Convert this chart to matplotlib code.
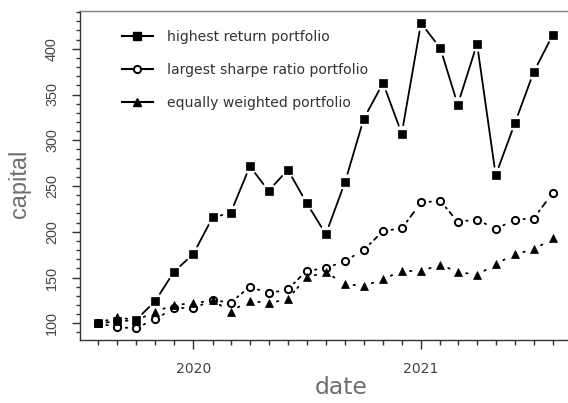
import matplotlib
matplotlib.use("Agg")
import matplotlib.pyplot as plt
import matplotlib.dates as mdates
from matplotlib.ticker import MultipleLocator
from matplotlib.lines import Line2D
import numpy as np
import pandas as pd

plt.rcParams['lines.scale_dashes'] = False

# ---------------- data ----------------
dates = pd.date_range("2019-08-01", "2021-08-01", freq="MS")
highest_return = [100, 102, 103.6, 124.3, 156.3, 175.6, 215.6, 220.5, 271.6, 244.7,
                  267.8, 231.6, 197.4, 254.5, 323.6, 362.5, 307.3, 428.0, 400.7,
                  338.9, 405.4, 261.8, 319.0, 374.5, 415.6]
largest_sharpe = [100, 95.6, 94.5, 104.7, 116.3, 116.3, 125.4, 122.5, 140.0, 132.7,
                  137.0, 157.4, 160.0, 168.3, 180.0, 201.0, 203.6, 232.0, 233.8,
                  210.9, 213.4, 202.9, 213.4, 214.5, 242.9]
equal_weight = [100, 107.0, 103.0, 112.7, 120.0, 121.8, 125.0, 112.8, 124.7, 121.8,
                126.5, 150.2, 155.6, 142.9, 140.7, 148.0, 157.4, 157.4, 163.6,
                156.3, 152.7, 164.7, 175.6, 180.7, 192.7]
series_labels = ["highest return portfolio", "largest sharpe ratio portfolio",
                 "equally weighted portfolio"]

# ---------------- figure ----------------
W, H = 568, 403
fig = plt.figure(figsize=(W / 100, H / 100), dpi=100)
ax = fig.add_axes([80 / W, 63 / H, 491 / W, 329 / H])
ax.set_xlim(mdates.date2num(pd.Timestamp("2019-07-03")),
            mdates.date2num(pd.Timestamp("2021-08-30")))
ax.set_ylim(81.7, 441.3)

PX = 0.72  # points per pixel
lw = 1.3
gap = 8.5  # pixels

def draw_series(y, marker, ms, mfc, mew, dashes):
    xd = mdates.date2num(dates)
    pts = ax.transData.transform(np.column_stack([xd, y]))
    inv = ax.transData.inverted()
    for p0, p1 in zip(pts[:-1], pts[1:]):
        d = p1 - p0
        L = np.hypot(d[0], d[1])
        if L <= 2 * gap + 0.5:
            continue
        u = d / L
        a = p0 + u * gap
        b = p1 - u * gap
        seg = inv.transform(np.array([a, b]))
        ln, = ax.plot(seg[:, 0], seg[:, 1], color="black", lw=lw,
                      solid_capstyle="round", dash_capstyle="round")
        if dashes is not None:
            ln.set_linestyle((0, dashes))
    ax.plot(xd, y, linestyle="none", marker=marker, ms=ms, mfc=mfc,
            mec="black", mew=mew, zorder=3)

draw_series(highest_return, "s", 5.5, "black", 0.5, None)
draw_series(largest_sharpe, "o", 5.2, "none", 1.4,
            (1.5 * PX, 4.5 * PX, 6 * PX, 4.5 * PX))
draw_series(equal_weight, "^", 6.2, "black", 0.5, (1.5 * PX, 4.5 * PX))

# ---------------- axes styling ----------------
for s in ax.spines.values():
    s.set_color("#333333")
    s.set_linewidth(1.0)
ax.spines["top"].set_color("#808080")
ax.spines["right"].set_visible(False)

ax.xaxis.set_major_locator(mdates.YearLocator())
ax.xaxis.set_major_formatter(mdates.DateFormatter("%Y"))
ax.xaxis.set_minor_locator(mdates.MonthLocator())
ax.yaxis.set_major_locator(MultipleLocator(50))
ax.yaxis.set_minor_locator(MultipleLocator(10))

ax.tick_params(axis="both", which="both", direction="out", color="#333333", width=1.0)
ax.tick_params(axis="x", which="major", length=6.5, pad=9.4, labelsize=10.1,
               labelcolor="#444444")
ax.tick_params(axis="x", which="minor", length=3.5)
ax.tick_params(axis="y", which="major", length=6.1, pad=9.0, labelcolor="#444444")
ax.tick_params(axis="y", which="minor", length=3.2)
for lab in ax.get_yticklabels():
    lab.set_family("Liberation Sans")
    lab.set_fontsize(10.4)
    lab.set_rotation(90)
    lab.set_va("center")
for lab in ax.get_xticklabels():
    lab.set_family("DejaVu Sans")

ax.set_xlabel("date", fontsize=16.9, color="#6e6e6e", family="DejaVu Sans", va="center")
ax.xaxis.set_label_coords((341 - 80) / 491, (340 - 388) / 329)
ax.set_ylabel("capital", fontsize=16.9, color="#6e6e6e", family="Liberation Sans",
              va="center", ha="center")
ax.yaxis.set_label_coords((19 - 80) / 491, (340 - 184) / 329)

# ---------------- legend ----------------
handles = [
    Line2D([], [], color="black", lw=1.5, marker="s", ms=5.5, mfc="black"),
    Line2D([], [], color="black", lw=1.5, marker="o", ms=5.2, mfc="white", mew=1.4),
    Line2D([], [], color="black", lw=1.5, marker="^", ms=6.2, mfc="black"),
]
leg = ax.legend(handles, series_labels, loc="upper left",
                bbox_to_anchor=(122 / W, 1 - 30 / H), bbox_transform=fig.transFigure,
                frameon=False, borderpad=0, borderaxespad=0, handlelength=2.2,
                handletextpad=1.0, labelspacing=1.34,
                prop={"family": "DejaVu Sans", "size": 10.1})
for t in leg.get_texts():
    t.set_color("#333333")

fig.savefig("out.png", dpi=100)
